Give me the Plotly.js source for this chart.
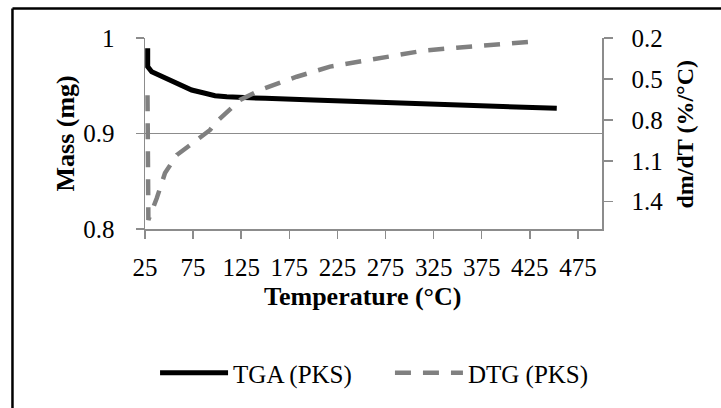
<!DOCTYPE html>
<html>
<head>
<meta charset="utf-8">
<script src="https://cdn.plot.ly/plotly-3.0.1.min.js"></script>
<style>html,body{margin:0;padding:0;background:#fff;overflow:hidden;}#chart{width:721px;height:408px;}</style>
</head>
<body>
<div id="chart"></div>
<script>
// TGA (PKS): temperature (°C) vs mass (mg)
const tgaTemp = [27.8, 27.8, 32, 40, 49.2, 59.6, 73.5, 87.4, 97.8, 110, 123.8, 150, 200, 250, 300, 350, 400, 453];
const tgaMass = [0.9892, 0.970, 0.9647, 0.9610, 0.9578, 0.9526, 0.9455, 0.9421, 0.9396, 0.9385, 0.9377, 0.9368, 0.9350, 0.9332, 0.9314, 0.9296, 0.9280, 0.9264];

// DTG (PKS): temperature (°C) vs dm/dT (%/°C)
const dtgTemp = [27.6, 27.8, 28.5, 37.2, 45.8, 58, 73.5, 92.6, 97.8, 113.4, 123.8, 144.5, 182.7, 217.3, 255.5, 276.3, 312.6, 349, 387, 423.4, 432];
const dtgRate = [0.62, 1.40, 1.534, 1.375, 1.19, 1.058, 0.972, 0.874, 0.825, 0.728, 0.654, 0.581, 0.484, 0.41, 0.361, 0.337, 0.295, 0.271, 0.246, 0.229, 0.226];

const xTicks = [25, 75, 125, 175, 225, 275, 325, 375, 425, 475];
const yTicks = [0.8, 0.9, 1];
const y2Ticks = [0.2, 0.5, 0.8, 1.1, 1.4];

const xTitle = 'Temperature (°C)';
const yTitle = 'Mass (mg)';
const y2Title = 'dm/dT (%/°C)';

const FONT = 'Liberation Serif';
const GRID = '#8c8c8c';

const traces = [
  {
    x: tgaTemp, y: tgaMass, name: 'TGA (PKS)', type: 'scatter', mode: 'lines',
    line: {color: '#000000', width: 5}, yaxis: 'y', legend: 'legend'
  },
  {
    x: dtgTemp, y: dtgRate, name: 'DTG (PKS)', type: 'scatter', mode: 'lines',
    line: {color: '#808080', width: 4.5, dash: '16px,12px'}, yaxis: 'y2', legend: 'legend2'
  }
];

const legendCommon = {
  orientation: 'h', xanchor: 'left', y: -0.754, yanchor: 'middle',
  font: {family: FONT, size: 25, color: '#000'}, itemwidth: 68, bgcolor: 'rgba(0,0,0,0)'
};

const layout = {
  width: 721, height: 408,
  margin: {l: 145, r: 119, t: 38, b: 179},
  paper_bgcolor: '#ffffff', plot_bgcolor: '#ffffff',
  font: {family: FONT, size: 25, color: '#000000'},
  showlegend: true,
  legend: Object.assign({}, legendCommon, {x: 0.022}),
  legend2: Object.assign({}, legendCommon, {x: 0.536}),
  xaxis: {
    range: [25, 500], tickvals: xTicks, ticktext: xTicks.map(String),
    showgrid: false, zeroline: false,
    showline: true, linecolor: GRID, linewidth: 1.5,
    ticks: 'outside', ticklen: 8, tickcolor: GRID, tickwidth: 1.5,
    tickfont: {family: FONT, size: 25}, ticklabelstandoff: 7
  },
  yaxis: {
    range: [0.8, 1], tickvals: yTicks, ticktext: ['0.8', '0.9', '1'],
    showgrid: true, gridcolor: GRID, gridwidth: 1.5, zeroline: false,
    showline: true, linecolor: GRID, linewidth: 1.5,
    ticks: 'outside', ticklen: 8, tickcolor: GRID, tickwidth: 1.5,
    tickfont: {family: FONT, size: 25}, ticklabelstandoff: 16
  },
  yaxis2: {
    overlaying: 'y', side: 'right',
    range: [1.6, 0.2], tickvals: y2Ticks, ticktext: ['0.2', '0.5', '0.8', '1.1', '1.4'],
    showgrid: false, zeroline: false,
    showline: true, linecolor: GRID, linewidth: 1.5,
    ticks: 'outside', ticklen: 9, tickcolor: GRID, tickwidth: 1.5,
    tickfont: {family: FONT, size: 25}, ticklabelstandoff: 14
  },
  annotations: [
    {text: '<b>' + xTitle + '</b>', xref: 'paper', yref: 'paper', x: 0.475, y: -0.356,
     xanchor: 'center', yanchor: 'middle', showarrow: false, font: {family: FONT, size: 26}},
    {text: '<b>' + yTitle + '</b>', xref: 'paper', yref: 'paper', x: -0.175, y: 0.5, textangle: -90,
     xanchor: 'center', yanchor: 'middle', showarrow: false, font: {family: FONT, size: 26}},
    {text: '<b>' + y2Title + '</b>', xref: 'paper', yref: 'paper', x: 1.1816, y: 0.5, textangle: -90,
     xanchor: 'center', yanchor: 'middle', showarrow: false, font: {family: FONT, size: 24}}
  ],
  shapes: [
    {type: 'line', xref: 'paper', yref: 'paper', x0: -0.290, x1: -0.290, y0: -1.2, y1: 1.1545,
     line: {color: '#000000', width: 2.5}, layer: 'below'},
    {type: 'line', xref: 'paper', yref: 'paper', x0: -0.290, x1: 1.6, y0: 1.1545, y1: 1.1545,
     line: {color: '#000000', width: 2.5}, layer: 'below'}
  ]
};

Plotly.newPlot('chart', traces, layout, {displayModeBar: false, staticPlot: true});
</script>
</body>
</html>
